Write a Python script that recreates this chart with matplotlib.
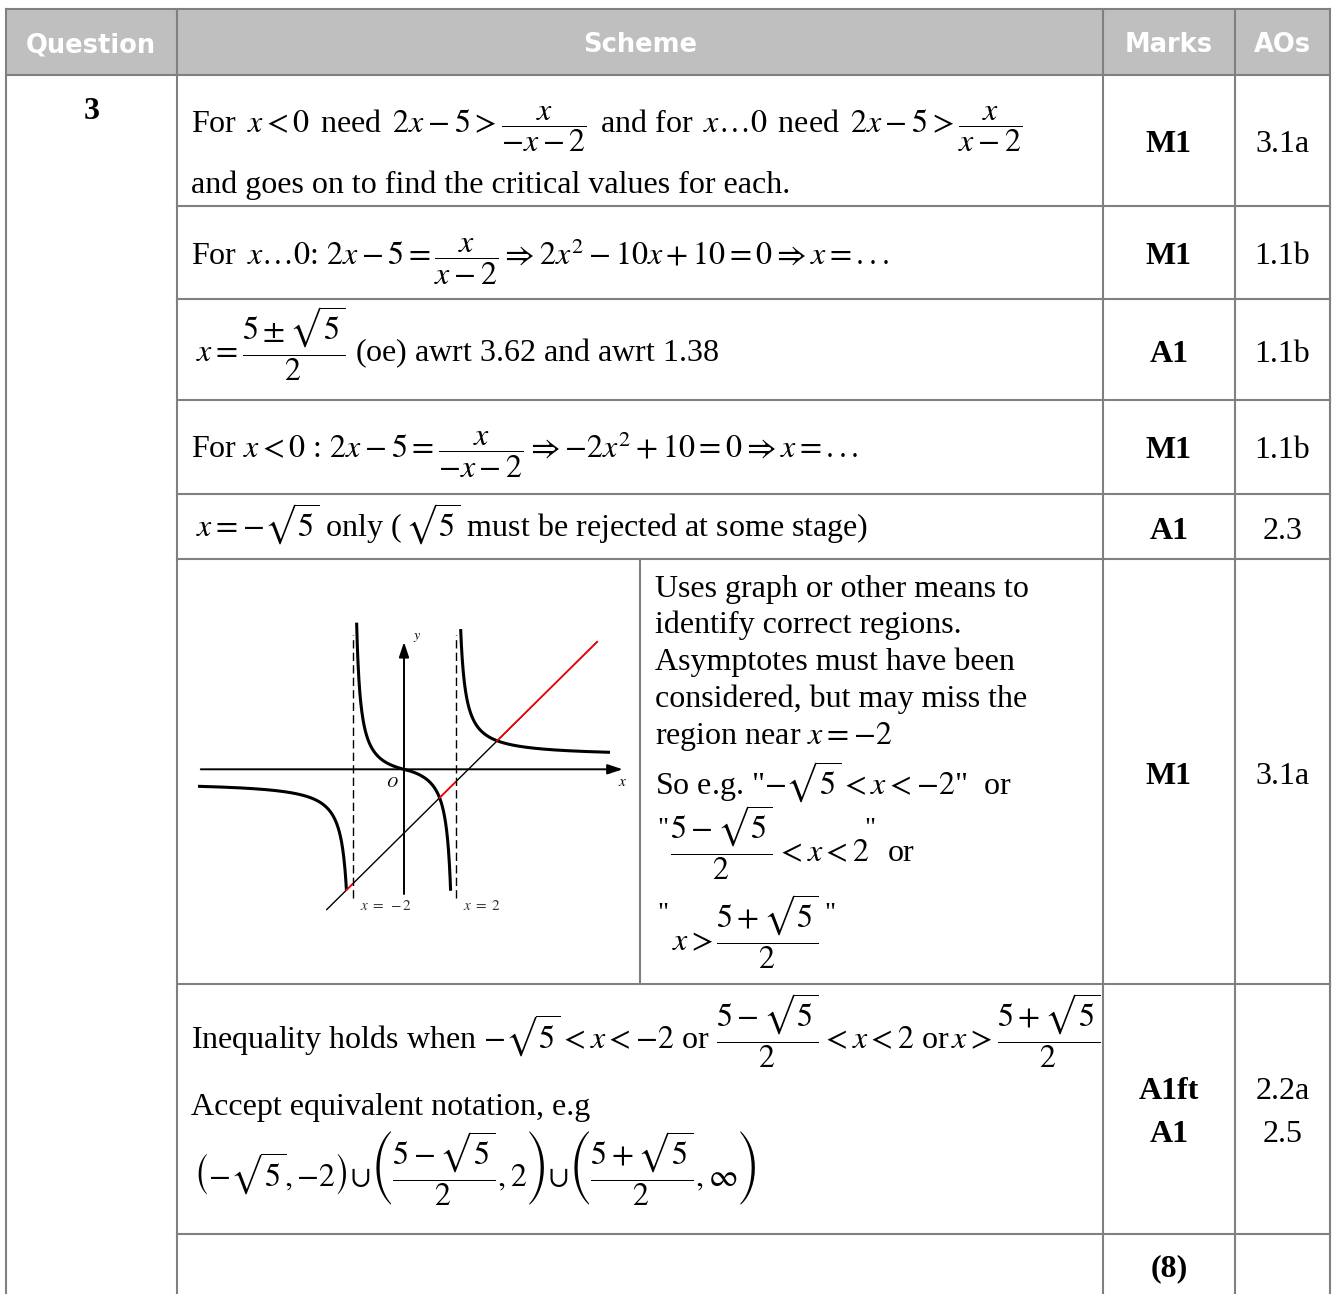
import numpy as np
import matplotlib as mpl
from matplotlib import pyplot as plt

mpl.rcParams['font.family'] = ['Liberation Serif', 'DejaVu Serif']
mpl.rcParams['mathtext.fontset'] = 'stix'

W, H = 1336, 1294
FS = 23          # body text size (pt)
LINE = '#808080'

# ---- table geometry (pixels) ----
col_x = [5.5, 177, 1103, 1235, 1330]
row_y = [9, 75, 206, 299, 400, 494, 559, 984, 1234]
split_x = 640          # graph / comment split inside the graph row

headers = ['Question', 'Scheme', 'Marks', 'AOs']
question = '3'

# scheme text: (x, baseline, text)
scheme_lines = [
    (191, 133, r'For $\,x<0\,$ need $\,2x-5>\dfrac{x}{-x-2}\,$ and for $\,x\ldots0\,$ need $\,2x-5>\dfrac{x}{x-2}$'),
    (191, 193, 'and goes on to find the critical values for each.'),
    (191, 266, r'For $\,x\ldots0$: $2x-5=\dfrac{x}{x-2}\Rightarrow 2x^{2}-10x+10=0\Rightarrow x=...$'),
    (196, 362, r'$x=\dfrac{5\pm\sqrt{5}}{2}$ (oe) awrt 3.62 and awrt 1.38'),
    (191, 459, r'For $x<0$ : $2x-5=\dfrac{x}{-x-2}\Rightarrow {-}2x^{2}+10=0\Rightarrow x=...$'),
    (196, 537, r'$x={-}\sqrt{5}$ only ($\,\sqrt{5}$ must be rejected at some stage)'),
    (191, 1049, r'Inequality holds when ${-}\sqrt{5}<x<{-}2$ or $\dfrac{5-\sqrt{5}}{2}<x<2$ or$\,x>\dfrac{5+\sqrt{5}}{2}$'),
    (191, 1115, 'Accept equivalent notation, e.g'),
    (193, 1187, r'$\left({-}\sqrt{5},{-}2\right){\cup}\left(\dfrac{5-\sqrt{5}}{2},2\right){\cup}\left(\dfrac{5+\sqrt{5}}{2},\infty\right)$'),
]

comment_lines = [
    (655, 597, 'Uses graph or other means to'),
    (655, 633, 'identify correct regions.'),
    (655, 670, 'Asymptotes must have been'),
    (655, 707, 'considered, but may miss the'),
    (655, 744, r'region near $x={-}2$'),
    (655, 795, r'So e.g. "${-}\sqrt{5}<x<{-}2$"  or'),
    (670, 861, r'$\dfrac{5-\sqrt{5}}{2}$'),
    (776, 861, r'$<x<2$'),
    (888, 861, 'or'),
    (672, 950, r'$x>$'),
    (716, 950, r'$\dfrac{5+\sqrt{5}}{2}$'),
]
quote_marks = [(657, 836), (864, 836), (657, 921), (824, 921)]

marks = [('M1', 152), ('M1', 264), ('A1', 362), ('M1', 458), ('A1', 539),
         ('M1', 784), ('A1ft', 1099), ('A1', 1142), ('(8)', 1276)]
aos = [('3.1a', 152), ('1.1b', 264), ('1.1b', 362), ('1.1b', 458), ('2.3', 539),
       ('3.1a', 784), ('2.2a', 1099), ('2.5', 1142)]

# ---- graph of y = x/(|x|-2) and y = 2x-5 ----
asymptotes = [-2, 2]
branches = [(-8.0, -2.236), (-1.84, 1.81), (2.2, 8.0)]
line_range = (-3.0, 7.5)
crit = [-np.sqrt(5), (5 - np.sqrt(5)) / 2, (5 + np.sqrt(5)) / 2]
red_parts = [(crit[0], -2), (crit[1], 2), (crit[2], line_range[1])]

fig = plt.figure(figsize=(W / 100, H / 100), dpi=100)
ax = fig.add_axes([0, 0, 1, 1])
ax.set_xlim(0, W)
ax.set_ylim(H, 0)
ax.axis('off')

# header band
ax.add_patch(mpl.patches.Rectangle((col_x[0], row_y[0]), col_x[-1] - col_x[0], row_y[1] - row_y[0],
                                   facecolor='#bfbfbf', edgecolor='none', zorder=0))
lw = 1.5
for x in col_x:
    ax.plot([x, x], [row_y[0], H], color=LINE, lw=lw)
ax.plot([col_x[0], col_x[-1]], [row_y[0], row_y[0]], color=LINE, lw=lw)
ax.plot([col_x[0], col_x[-1]], [row_y[1], row_y[1]], color=LINE, lw=lw)
for y in row_y[2:]:
    ax.plot([col_x[1], col_x[-1]], [y, y], color=LINE, lw=lw)
ax.plot([split_x, split_x], [row_y[6], row_y[7]], color=LINE, lw=lw)

for i, h in enumerate(headers):
    cx = (col_x[i] + col_x[i + 1]) / 2
    ax.text(cx, (row_y[0] + row_y[1]) / 2 + 3, h, ha='center', va='center', color='white',
            fontsize=18.5, fontweight='bold', family='DejaVu Sans')

ax.text((col_x[0] + col_x[1]) / 2, 119, question, ha='center', va='baseline',
        fontsize=FS, fontweight='bold')

for x, y, s in scheme_lines + comment_lines:
    ax.text(x, y, s, ha='left', va='baseline', fontsize=FS)
for x, y in quote_marks:
    ax.text(x, y, '"', ha='left', va='baseline', fontsize=FS * 0.85)

for s, y in marks:
    ax.text((col_x[2] + col_x[3]) / 2, y, s, ha='center', va='baseline', fontsize=FS, fontweight='bold')
for s, y in aos:
    ax.text((col_x[3] + col_x[4]) / 2, y, s, ha='center', va='baseline', fontsize=FS)

# graph axes placed so that origin is at (404, 769) px
ox, oy, sx, sy = 404, 769.3, 25.75, 12.75
gx0, gx1, gy0, gy1 = -8.5, 9.0, -12.0, 12.0
gax = fig.add_axes([(ox + gx0 * sx) / W, 1 - (oy - gy0 * sy) / H,
                    (gx1 - gx0) * sx / W, (gy1 - gy0) * sy / H])
gax.set_xlim(gx0, gx1)
gax.set_ylim(gy0, gy1)
gax.axis('off')

for a, b in branches:
    xs = np.linspace(a, b, 400)
    gax.plot(xs, xs / (np.abs(xs) - 2), color='black', lw=2.2, solid_capstyle='butt')
lx = np.array(line_range)
gax.plot(lx, 2 * lx - 5, color='black', lw=1.0)
for a, b in red_parts:
    rx = np.array([a, b])
    gax.plot(rx, 2 * rx - 5, color='red', lw=1.2)
for a in asymptotes:
    gax.plot([a, a], [-10.1, 10.5], color='black', lw=1.0, ls=(0, (6, 3)))

gax.annotate('', xy=(8.6, 0), xytext=(-8.0, 0),
             arrowprops=dict(arrowstyle='-|>,head_length=0.9,head_width=0.3', color='black', lw=1.4))
gax.annotate('', xy=(0, 10.2), xytext=(0, -10.0),
             arrowprops=dict(arrowstyle='-|>,head_length=0.9,head_width=0.3', color='black', lw=1.4))

gax.text(0.35, 10.3, r'$y$', fontsize=10, ha='left', va='center')
gax.text(-0.45, -1.05, r'$O$', fontsize=11, ha='center', va='center')
gax.text(8.5, -1.0, r'$x$', fontsize=11, ha='center', va='center')
gax.text(-0.7, -10.7, r'$x\;=\;-2$', fontsize=11, ha='center', va='center', color='#333333')
gax.text(3.0, -10.7, r'$x\;=\;2$', fontsize=11, ha='center', va='center', color='#333333')

plt.savefig('out.png', dpi=100)
